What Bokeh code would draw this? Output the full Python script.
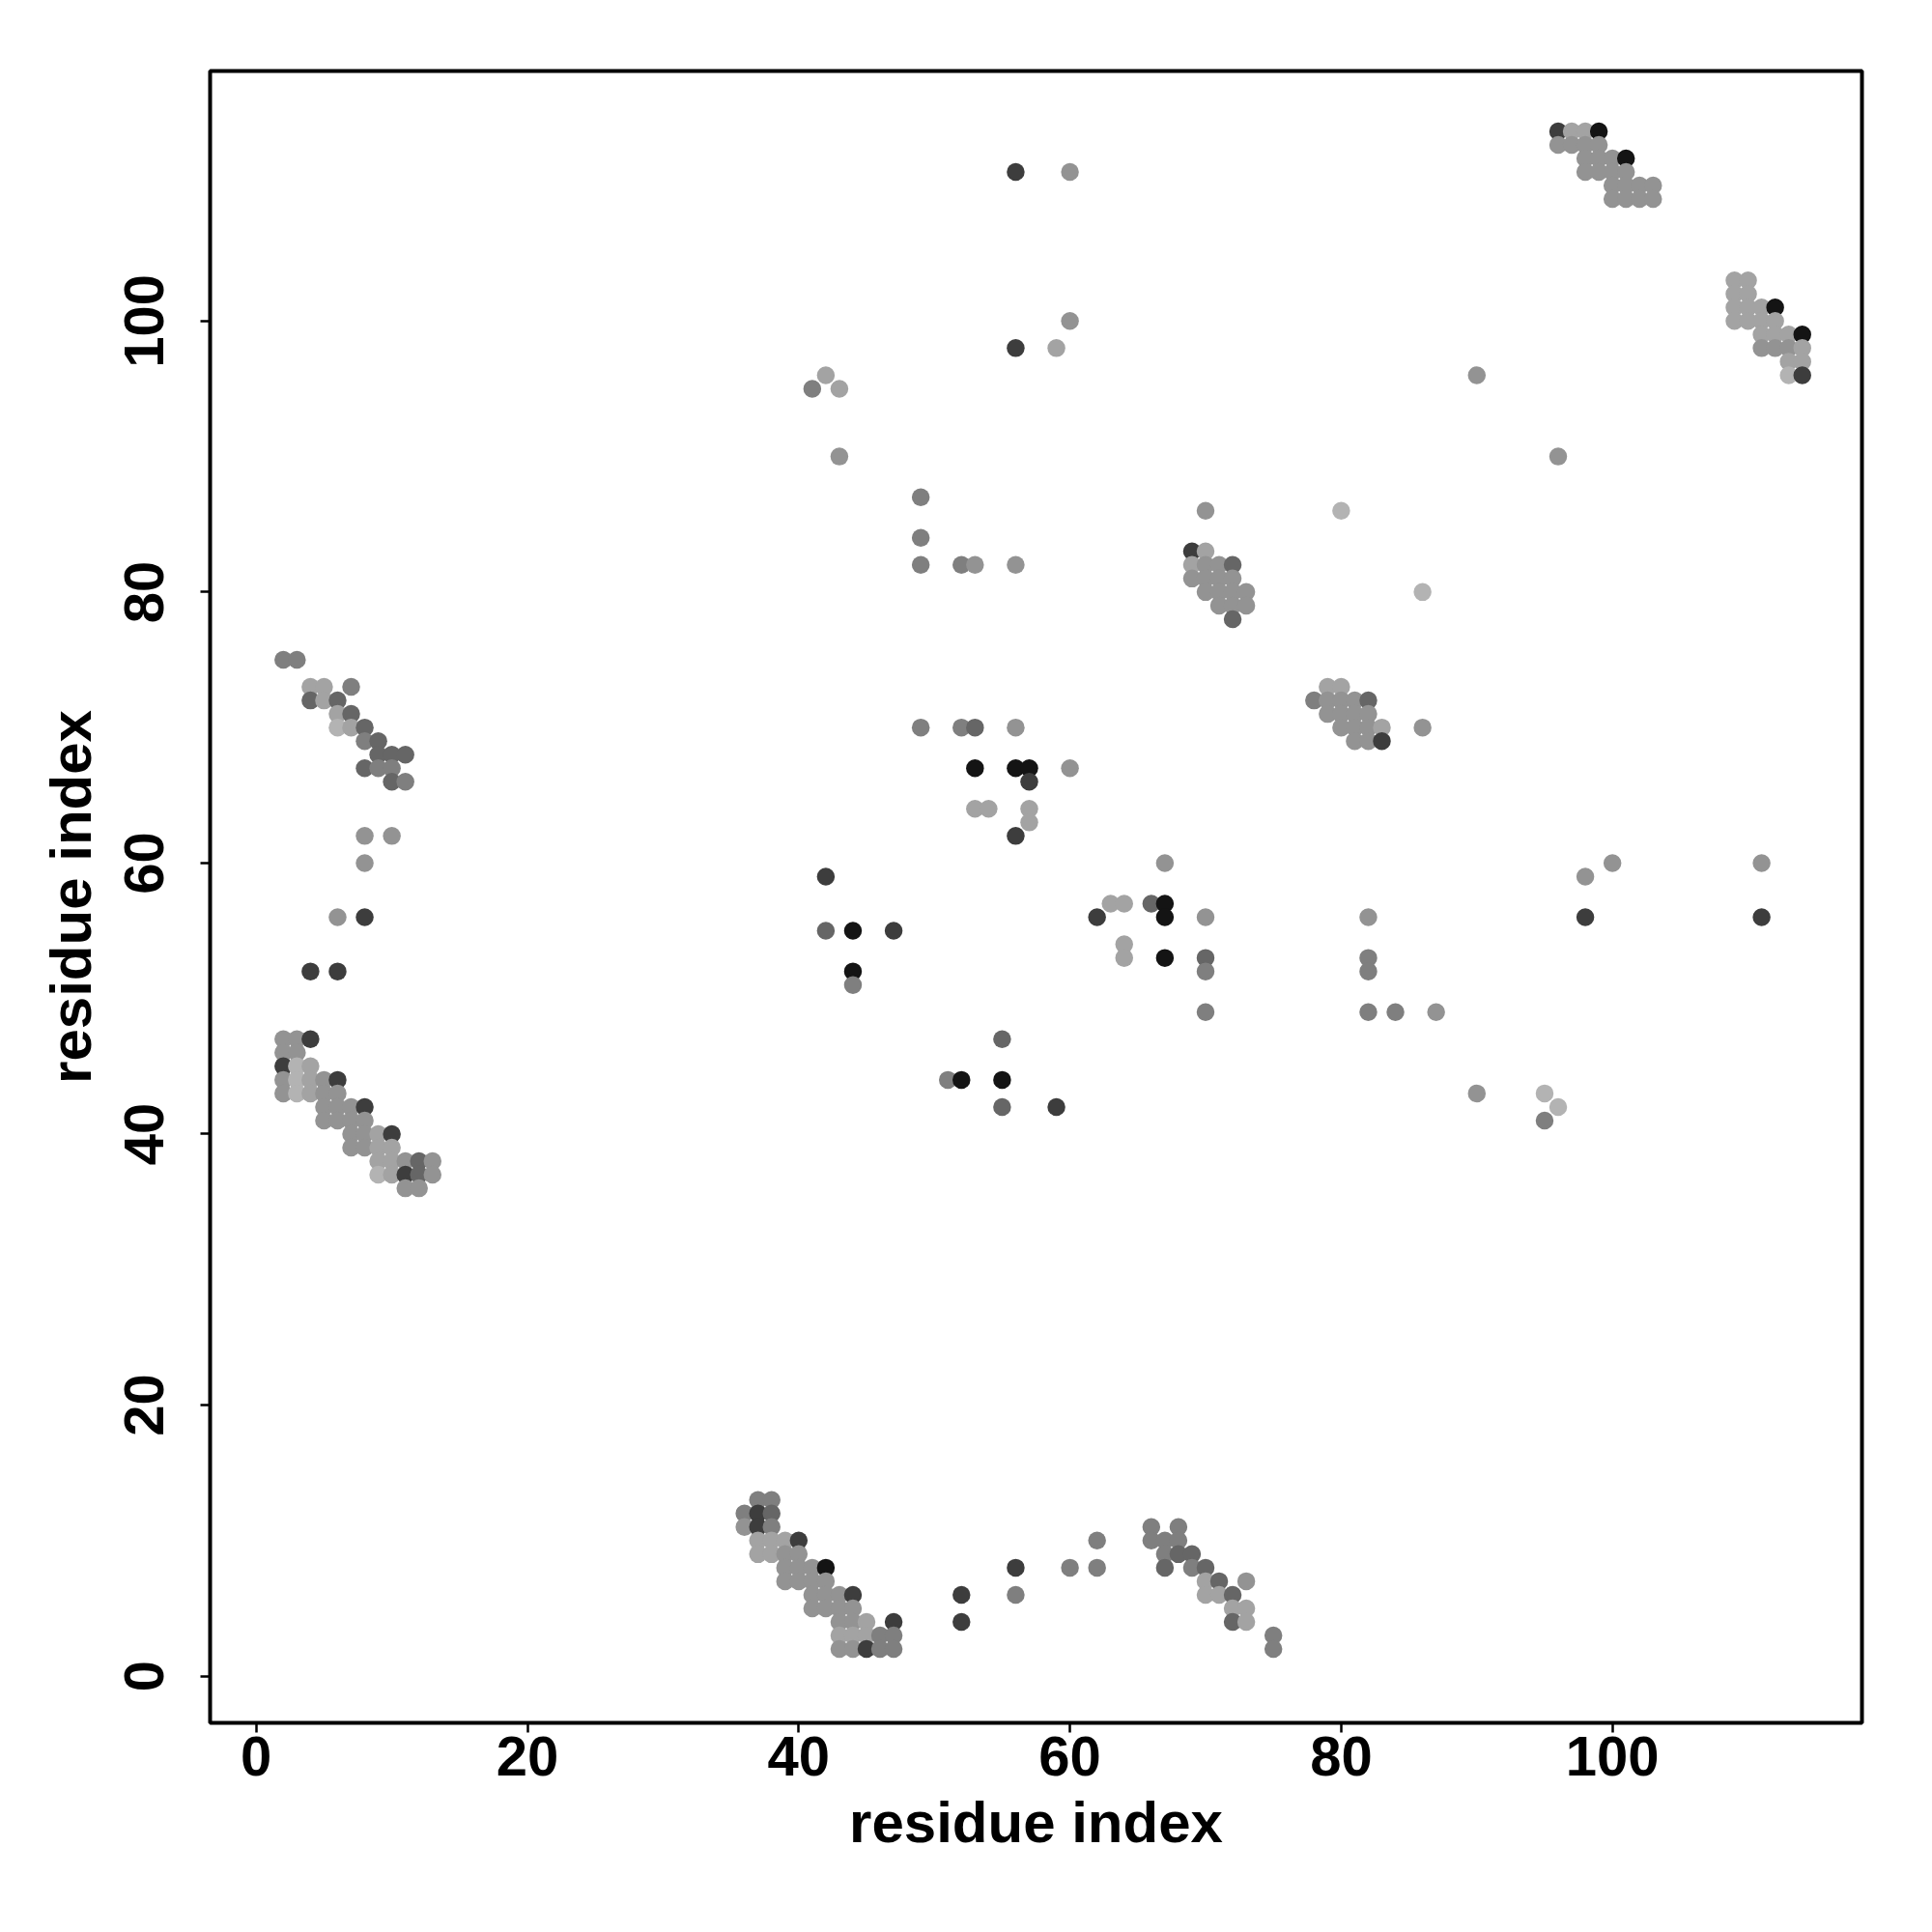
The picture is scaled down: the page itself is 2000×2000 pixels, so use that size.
from bokeh.plotting import figure
from bokeh.models import ColumnDataSource, Range1d
from bokeh.embed import file_html
from bokeh.resources import INLINE

# contact map: residue i, residue j, shade level (1 = weakest/lightest ... 7 = strongest/black)
res_i = [
    # cluster near (2-13, 36-47)
    2, 3, 4, 2, 3, 2, 3, 4, 2, 3, 4, 5, 6, 2, 3, 4, 5, 6,
    5, 6, 7, 8, 5, 6, 7, 8, 7, 8, 9, 10, 7, 8, 9, 10,
    9, 10, 11, 12, 13, 9, 10, 11, 12, 13, 11, 12,
    # cluster near (2-11, 66-75)
    2, 3, 4, 5, 7, 4, 5, 6, 6, 7, 6, 7, 8, 8, 9, 9, 10, 11, 8, 9, 10, 10, 11,
    # left sparse
    8, 10, 8, 6, 8, 4, 6,
    # cluster near (36-47, 2-13)
    37, 38, 36, 37, 38, 36, 37, 38, 37, 38, 39, 40, 37, 38, 39, 40,
    39, 40, 41, 42, 39, 40, 41, 42, 41, 42, 43, 44, 41, 42, 43, 44,
    43, 44, 45, 47, 43, 44, 45, 46, 47, 43, 44, 45, 46, 47,
    # cluster near (66-75, 2-11)
    66, 68, 66, 67, 68, 67, 68, 69, 67, 69, 70, 70, 71, 73,
    70, 71, 72, 72, 73, 72, 73, 75, 75,
    # bottom sparse
    52, 52, 56, 56, 60, 62, 62,
    # middle sparse
    42, 42, 44, 47, 44, 44, 55, 51, 52, 55, 55, 59,
    49, 52, 53, 56, 53, 56, 57, 60, 57, 53, 54, 57, 57, 56,
    67, 63, 64, 66, 67, 62, 67, 70, 64, 64, 67, 70, 70, 70,
    # cluster near (69-73, 78-86)
    70, 69, 70, 69, 70, 71, 72, 69, 70, 71, 72, 70, 71, 72, 73, 71, 72, 73, 72,
    # cluster near (78-86, 69-73)
    79, 80, 78, 79, 80, 81, 82, 79, 80, 81, 82, 80, 81, 82, 83, 86, 81, 82, 83,
    # cluster near (96-103, 109-114)
    96, 97, 98, 99, 96, 97, 98, 99, 98, 99, 100, 101, 98, 99, 100, 101,
    100, 101, 102, 103, 100, 101, 102, 103,
    # cluster near (109-114, 96-103)
    109, 110, 109, 110, 109, 110, 111, 112, 109, 110, 111, 112,
    111, 112, 113, 114, 111, 112, 113, 114, 113, 114, 113, 114,
    # upper sparse
    41, 42, 43, 43, 49, 49, 49, 52, 53, 56, 56, 60, 60, 56, 59,
    90, 96, 80, 86, 98, 98, 100, 111, 111, 90, 95, 95, 96,
    82, 82, 82, 82, 84, 87,
]
res_j = [
    47, 47, 47, 46, 46, 45, 45, 45, 44, 44, 44, 44, 44, 43, 43, 43, 43, 43,
    42, 42, 42, 42, 41, 41, 41, 41, 40, 40, 40, 40, 39, 39, 39, 39,
    38, 38, 38, 38, 38, 37, 37, 37, 37, 37, 36, 36,
    75, 75, 73, 73, 73, 72, 72, 72, 71, 71, 70, 70, 70, 69, 69, 68, 68, 68, 67, 67, 67, 66, 66,
    62, 62, 60, 56, 56, 52, 52,
    13, 13, 12, 12, 12, 11, 11, 11, 10, 10, 10, 10, 9, 9, 9, 9,
    8, 8, 8, 8, 7, 7, 7, 7, 6, 6, 6, 6, 5, 5, 5, 5,
    4, 4, 4, 4, 3, 3, 3, 3, 3, 2, 2, 2, 2, 2,
    11, 11, 10, 10, 10, 9, 9, 9, 8, 8, 8, 7, 7, 7,
    6, 6, 6, 5, 5, 4, 4, 3, 2,
    6, 4, 8, 6, 8, 8, 10,
    59, 55, 55, 55, 52, 51, 47, 44, 44, 44, 42, 42,
    70, 70, 70, 70, 67, 67, 67, 67, 66, 64, 64, 64, 63, 62,
    60, 57, 57, 57, 57, 56, 56, 56, 54, 53, 53, 53, 52, 49,
    86, 83, 83, 82, 82, 82, 82, 81, 81, 81, 81, 80, 80, 80, 80, 79, 79, 79, 78,
    73, 73, 72, 72, 72, 72, 72, 71, 71, 71, 71, 70, 70, 70, 70, 70, 69, 69, 69,
    114, 114, 114, 114, 113, 113, 113, 113, 112, 112, 112, 112, 111, 111, 111, 111,
    110, 110, 110, 110, 109, 109, 109, 109,
    103, 103, 102, 102, 101, 101, 101, 101, 100, 100, 100, 100,
    99, 99, 99, 99, 98, 98, 98, 98, 97, 97, 96, 96,
    95, 96, 95, 90, 87, 84, 82, 82, 82, 82, 111, 111, 100, 98, 98,
    96, 90, 86, 80, 59, 56, 60, 60, 56, 43, 43, 41, 42,
    56, 53, 52, 49, 49, 49,
]
shade = [
    3, 3, 6, 3, 3, 6, 1, 2, 3, 1, 2, 3, 6, 3, 1, 2, 3, 3,
    3, 3, 3, 6, 3, 3, 3, 3, 3, 3, 2, 6, 3, 3, 2, 2,
    2, 2, 3, 5, 3, 1, 2, 6, 5, 3, 3, 3,
    4, 4, 2, 2, 4, 5, 2, 5, 2, 5, 1, 2, 5, 4, 5, 5, 5, 5, 5, 4, 4, 5, 4,
    3, 3, 3, 3, 6, 6, 6,
    4, 4, 4, 6, 5, 3, 6, 4, 2, 2, 2, 6, 2, 2, 3, 3,
    3, 3, 3, 7, 3, 3, 3, 3, 3, 3, 3, 6, 3, 3, 3, 3,
    3, 3, 2, 6, 2, 2, 2, 4, 4, 3, 3, 6, 4, 4,
    4, 4, 4, 4, 4, 4, 5, 5, 5, 4, 5, 2, 5, 3,
    2, 2, 5, 2, 2, 5, 2, 4, 4,
    6, 6, 6, 4, 4, 4, 4,
    6, 5, 7, 6, 7, 4, 5, 4, 7, 7, 5, 6,
    4, 4, 5, 3, 7, 7, 7, 3, 6, 2, 2, 2, 2, 6,
    3, 2, 2, 5, 7, 6, 7, 3, 2, 2, 7, 5, 4, 4,
    3, 6, 2, 2, 3, 3, 5, 3, 3, 3, 3, 3, 3, 3, 3, 3, 3, 3, 5,
    2, 2, 4, 3, 3, 3, 5, 3, 3, 3, 3, 3, 3, 3, 2, 3, 3, 3, 6,
    6, 2, 2, 7, 3, 3, 3, 3, 3, 3, 3, 7, 3, 3, 3, 3,
    3, 3, 3, 3, 3, 3, 3, 3,
    2, 2, 2, 2, 2, 2, 2, 7, 2, 2, 2, 2,
    2, 2, 2, 7, 3, 3, 3, 2, 2, 2, 1, 6,
    4, 2, 2, 3, 4, 4, 4, 4, 3, 3, 6, 3, 3, 6, 2,
    3, 3, 1, 1, 3, 6, 3, 3, 6, 3, 1, 4, 1,
    3, 4, 4, 4, 4, 3,
]

x_ticks = [0, 20, 40, 60, 80, 100]
y_ticks = [0, 20, 40, 60, 80, 100]
grey_levels = ["#b3b3b3", "#a3a3a3", "#939393", "#7f7f7f", "#666666", "#3d3d3d", "#141414"]

src = ColumnDataSource(dict(
    x=res_i, y=res_j, c=[grey_levels[s - 1] for s in shade]
))

p = figure(width=1984, height=1984, output_backend="svg", toolbar_location=None,
           x_range=Range1d(-3.4, 118.4), y_range=Range1d(-3.45, 118.45),
           min_border_left=217, min_border_right=57, min_border_top=73, min_border_bottom=201)
p.background_fill_color = "white"
p.border_fill_color = "white"
p.grid.visible = False
p.outline_line_color = "black"
p.outline_line_width = 4

p.scatter("x", "y", source=src, size=18.5, fill_color="c", line_color=None)

for ax, ticks in ((p.xaxis, x_ticks), (p.yaxis, y_ticks)):
    ax.ticker = ticks
    ax.axis_line_color = None
    ax.major_tick_line_color = "black"
    ax.major_tick_line_width = 2.5
    ax.major_tick_out = 10
    ax.major_tick_in = 0
    ax.minor_tick_line_color = None
    ax.major_label_text_font = "Liberation Sans"
    ax.major_label_text_font_style = "bold"
    ax.major_label_text_font_size = "58px"
    ax.major_label_text_color = "black"
    ax.axis_label = "residue index"
    ax.axis_label_text_font = "Liberation Sans"
    ax.axis_label_text_font_style = "bold"
    ax.axis_label_text_font_size = "60px"
    ax.axis_label_text_color = "black"

p.xaxis.major_label_standoff = 4
p.xaxis.axis_label_standoff = 12
p.yaxis.major_label_orientation = "vertical"
p.yaxis.major_label_standoff = 38
p.yaxis.axis_label_standoff = 20

open("out.html", "w").write(file_html(p, INLINE))
